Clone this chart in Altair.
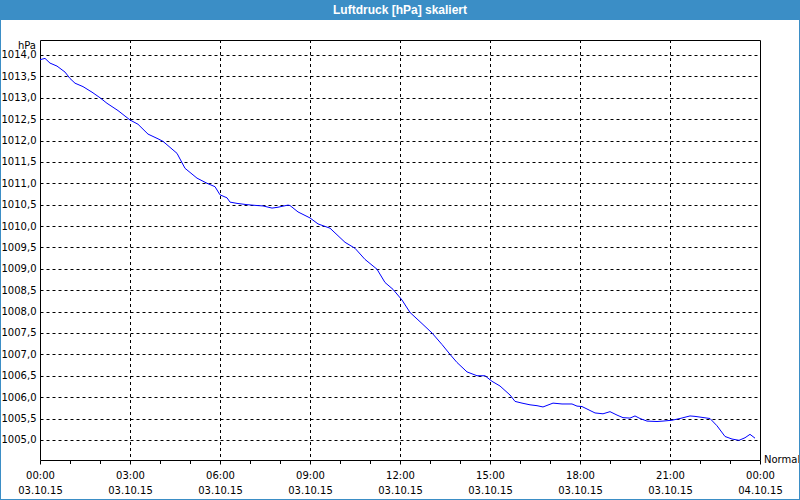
import json
import altair as alt
import pandas as pd

# --- data (time in minutes after 03.10.15 00:00, pressure in hPa) ---
minutes = [0, 10, 20, 34, 50, 60, 70, 86, 104, 120, 134, 156, 180, 196, 216, 236, 246,
           274, 290, 314, 334, 350, 360, 374, 380, 394, 414, 434, 446, 464, 476, 496, 500,
           516, 540, 556, 580, 610, 630, 650, 674, 690, 706, 724, 740, 764, 784, 804, 820,
           834, 854, 874, 890, 904, 920, 940, 950, 964, 980, 994, 1006, 1026, 1044, 1064,
           1074, 1084, 1110, 1126, 1140, 1154, 1166, 1180, 1190, 1200, 1214, 1234, 1246,
           1264, 1280, 1300, 1310, 1340, 1354, 1370, 1384, 1398, 1410, 1420, 1430]
pressure = [1013.89, 1013.92, 1013.81, 1013.74, 1013.60, 1013.45, 1013.34, 1013.26, 1013.13,
            1013.00, 1012.87, 1012.70, 1012.48, 1012.38, 1012.15, 1012.04, 1011.98, 1011.70,
            1011.35, 1011.12, 1011.00, 1010.92, 1010.73, 1010.66, 1010.56, 1010.53, 1010.50,
            1010.48, 1010.47, 1010.42, 1010.44, 1010.49, 1010.48, 1010.33, 1010.19, 1010.05,
            1009.95, 1009.62, 1009.48, 1009.22, 1008.99, 1008.68, 1008.52, 1008.27, 1007.98,
            1007.72, 1007.50, 1007.23, 1007.00, 1006.81, 1006.59, 1006.50, 1006.50, 1006.37,
            1006.26, 1006.05, 1005.90, 1005.86, 1005.82, 1005.80, 1005.77, 1005.86, 1005.84,
            1005.84, 1005.79, 1005.78, 1005.63, 1005.61, 1005.66, 1005.58, 1005.52, 1005.51,
            1005.56, 1005.50, 1005.44, 1005.43, 1005.44, 1005.46, 1005.50, 1005.56, 1005.55,
            1005.50, 1005.33, 1005.08, 1005.02, 1004.99, 1005.05, 1005.13, 1005.04]

time_labels = ["00:00", "03:00", "06:00", "09:00", "12:00", "15:00", "18:00", "21:00", "00:00"]
date_labels = ["03.10.15"] * 8 + ["04.10.15"]
major_minutes = [0, 180, 360, 540, 720, 900, 1080, 1260, 1440]
grid_minutes = [180, 360, 540, 720, 900, 1080, 1260]
minor_minutes = [60, 120, 240, 300, 420, 480, 600, 660, 780, 840, 960, 1020, 1140, 1200,
                 1320, 1380]
y_ticks = [1005 + 0.5 * i for i in range(19)]

title_text = "Luftdruck [hPa] skaliert"
BLUE = "#3b8ec6"

df = pd.DataFrame({"t": minutes, "p": pressure})
one = pd.DataFrame({"a": [0]})
grid_df = pd.DataFrame({"g": grid_minutes})
minor_df = pd.DataFrame({"m": minor_minutes})

W, H = 720, 420

label_expr = (
    f"[{json.dumps(time_labels)}[round(datum.value/180)], "
    f"{json.dumps(date_labels)}[round(datum.value/180)]]"
)

x_scale = alt.Scale(domain=[0, 1440], nice=False, zero=False)
y_scale = alt.Scale(domain=[1004.53, 1014.35], nice=False, zero=False)

line = alt.Chart(df).mark_line(color="#0000ff", strokeWidth=1, clip=True).encode(
    x=alt.X("t:Q", scale=x_scale, title=None,
            axis=alt.Axis(values=major_minutes, labelExpr=label_expr,
                          grid=False, domain=False, tickColor="black", tickSize=4,
                          labelColor="black", labelFont="DejaVu Sans", labelFontSize=10,
                          labelPadding=6, labelLineHeight=15, labelOverlap=False,
                          labelFlush=False, labelBound=False, labelBaseline="top")),
    y=alt.Y("p:Q", scale=y_scale, title=None,
            axis=alt.Axis(values=y_ticks,
                          labelExpr="replace(format(datum.value, '.1f'), '.', ',')",
                          grid=True, gridColor="black", gridDash=[3, 3], gridOpacity=1,
                          gridWidth=1, ticks=False, domain=False, labelColor="black",
                          labelFont="DejaVu Sans", labelFontSize=10, labelPadding=4)),
)

vgrid = alt.Chart(grid_df).mark_rule(color="black", strokeWidth=1, strokeDash=[3, 3],
                                     xOffset=0.5).encode(
    x=alt.X("g:Q", scale=x_scale),
)
minor = alt.Chart(minor_df).mark_rule(color="black", strokeWidth=1, xOffset=0.5,
                                      clip=False).encode(
    x=alt.X("m:Q", scale=x_scale),
    y=alt.value(H), y2=alt.value(H + 4),
)

bar = alt.Chart(one).mark_rect(color=BLUE, clip=False).encode(
    x=alt.value(-40), x2=alt.value(W + 40), y=alt.value(-40), y2=alt.value(-20)
)
title = alt.Chart(one).mark_text(color="white", font="Liberation Sans", fontSize=12,
                                 fontWeight="bold", align="center", baseline="middle").encode(
    x=alt.value(W / 2), y=alt.value(-30), text=alt.value(title_text)
)
frame = alt.Chart(one).mark_rect(fill=None, fillOpacity=0, stroke=BLUE, strokeWidth=2,
                                 clip=False).encode(
    x=alt.value(-40), x2=alt.value(W + 40), y=alt.value(-40), y2=alt.value(H + 40)
)
hpa = alt.Chart(one).mark_text(color="black", font="DejaVu Sans", fontSize=10,
                               align="right", baseline="middle").encode(
    x=alt.value(-4), y=alt.value(6), text=alt.value("hPa")
)
normal = alt.Chart(one).mark_text(color="black", font="DejaVu Sans", fontSize=10,
                                  align="left", baseline="middle").encode(
    x=alt.value(W + 4), y=alt.value(H), text=alt.value("Normal")
)

chart = alt.layer(vgrid, minor, line, bar, title, hpa, normal, frame).properties(
    width=W, height=H,
    autosize=alt.AutoSizeParams(type="none"),
    padding={"left": 40, "top": 40, "right": 40, "bottom": 40},
    background="white",
).configure_view(stroke="black", strokeWidth=1)

chart.save("out.html", embed_options={"renderer": "svg", "actions": False})
